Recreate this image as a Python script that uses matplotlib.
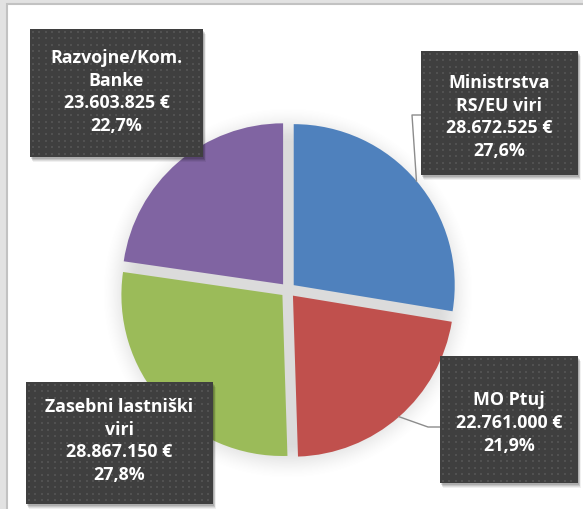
import numpy as np
import matplotlib
matplotlib.use('Agg')
import matplotlib.pyplot as plt
from matplotlib.patches import Rectangle

W, H = 583, 510

# funding sources, clockwise from 12 o'clock
names = ["Ministrstva\nRS/EU viri", "MO Ptuj", "Zasebni lastniški\nviri", "Razvojne/Kom.\nBanke"]
amounts = [28672525, 22761000, 28867150, 23603825]
colors = ["#4F81BD", "#C0504D", "#9BBB59", "#8064A2"]

# label boxes in pixel coords (x0, y0, x1, y1), y measured from top
boxes = [(421, 52, 578, 176), (440, 357, 578, 484), (26, 383, 213, 505), (30, 30, 203, 158)]
text_y = [117, 423, 441, 92]
# leader lines: elbow point and box edge (pixels), None = no leader
leaders = [((412, 116), (421, 116)), ((428, 428), (440, 428)), None, None]

PIE_C = (288, 291)
PIE_R = 161
EXPLODE = 7.5   # pie() offsets wedges by this many data units

BOX = "#3f3f3f"
DOT = "#515151"
LINE = "#8c8c8c"


def py(y):
    return H - y


def fmt_eur(v):
    return f"{v:,}".replace(",", ".") + " €"


def fmt_pct(p):
    return f"{p:.1f}%".replace(".", ",")


fig = plt.figure(figsize=(W / 100, H / 100), dpi=100)
fig.patch.set_facecolor("#e2e2e2")
ax = fig.add_axes([0, 0, 1, 1])

# chart area with thin border
ax.add_patch(Rectangle((7, py(H + 10)), W + 10, H + 10 - 5, facecolor="white",
                       edgecolor="#c2c2c2", lw=1.5, zorder=0))

# soft shadow under the pie
cx, cy = PIE_C[0], py(PIE_C[1] + 3)
xx, yy = np.meshgrid(np.arange(W) + 0.5, np.arange(H) + 0.5)
d = np.hypot(xx - cx, yy - cy)
t = np.clip((PIE_R + 26 - d) / 38, 0, 1)
alpha = 0.28 * t * t * (3 - 2 * t)
shadow = np.zeros((H, W, 4))
shadow[..., :3] = 0.5
shadow[..., 3] = alpha
ax.imshow(shadow, extent=(0, W, 0, H), origin="lower", zorder=1, interpolation="bilinear")

wedges, _ = ax.pie(amounts, colors=colors, startangle=90, counterclock=False,
                   radius=PIE_R, center=(PIE_C[0], py(PIE_C[1])),
                   explode=[EXPLODE] * 4, wedgeprops=dict(linewidth=0, zorder=2))
ax.set_xlim(0, W)
ax.set_ylim(0, H)
ax.set_aspect("auto")
ax.axis("off")

total = sum(amounts)
for i, w in enumerate(wedges):
    x0, y0, x1, y1 = boxes[i]
    bw, bh = x1 - x0, y1 - y0

    # drop shadow
    for k, a in [(5, 0.06), (4, 0.08), (3, 0.1), (2, 0.12)]:
        ax.add_patch(Rectangle((x0 + k * 0.6, py(y1) - k), bw, bh, facecolor="black",
                               alpha=a, lw=0, zorder=4))
    ax.add_patch(Rectangle((x0, py(y1)), bw, bh, facecolor=BOX, lw=0, zorder=5))

    # dotted texture
    gx, gy = np.meshgrid(np.arange(x0 + 3, x1 - 1, 6.4), np.arange(y0 + 3, y1 - 1, 6.4))
    ax.scatter(gx.ravel(), py(gy.ravel()), s=1.3, marker="s", c=DOT, lw=0, zorder=6)

    label = f"{names[i]}\n{fmt_eur(amounts[i])}\n{fmt_pct(amounts[i] / total * 100)}"
    ax.text((x0 + x1) / 2, py(text_y[i]), label, ha="center", va="center",
            color="white", fontsize=12.8, fontweight="bold", linespacing=1.33,
            family=["Open Sans", "DejaVu Sans"], zorder=7)

    if leaders[i] is not None:
        ang = np.deg2rad((w.theta1 + w.theta2) / 2)
        sx = w.center[0] + w.r * np.cos(ang)
        sy = w.center[1] + w.r * np.sin(ang)
        (ex, ey), (bx, by) = leaders[i]
        ax.plot([sx, ex, bx], [sy, py(ey), py(by)], color=LINE, lw=1, zorder=3)

fig.savefig("out.png", dpi=100)
